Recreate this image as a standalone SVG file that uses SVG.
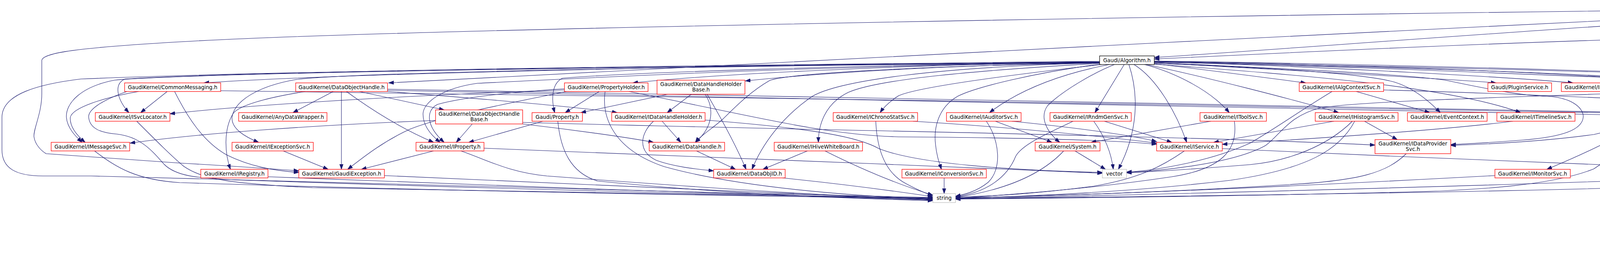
<svg xmlns="http://www.w3.org/2000/svg" width="5494" height="647" viewBox="0 0 5494 647">
<style>
.r rect{fill:#fff;stroke:#ff0000;stroke-width:1.3}
.b rect{fill:#fff;stroke:#000;stroke-width:1.3}
.s rect{fill:#fff;stroke:#bfbfbf;stroke-width:1.3}
.root rect{fill:#bfbfbf;stroke:#000;stroke-width:1.3}
text{font-family:"DejaVu Sans","Liberation Sans",sans-serif;font-size:13.33px;fill:#000;text-anchor:middle}
.root text{text-anchor:start}
</style>
<defs>
<marker id="a" markerUnits="userSpaceOnUse" markerWidth="14" markerHeight="10" refX="13" refY="5" orient="auto">
<path d="M0,0.5 L13,5 L0,9.5 z" fill="#191970" stroke="#191970" stroke-width="1"/>
</marker>
</defs>
<rect width="5494" height="647" fill="#fff"/>
<g id="edges" fill="none" stroke="#191970" stroke-width="1.1" marker-end="url(#a)">
<path d="M2815,157 C2200,162 900,185 522,212"/>
<path d="M2815,158 C1500,168 600,186 320,202 C290,215 300,255 330,288"/>
<path d="M2815,159 C1400,172 430,190 293,205 C205,222 168,265 170,300 C172,328 195,350 210,364"/>
<path d="M2815,160 C1600,170 700,182 207,202 C100,215 5,240 5,300 L5,383 C5,430 40,450 110,450 L233,450 C700,458 1600,490 2388,505"/>
<path d="M2815,160 C1800,168 900,186 760,203 C660,220 600,258 594,300 C592,330 628,350 662,364"/>
<path d="M2815,159 C2300,165 1800,192 1620,212"/>
<path d="M2815,160 C2400,168 2100,187 1908,207"/>
<path d="M2815,159 C2200,166 1600,186 1440,200 C1414,212 1410,250 1420,288"/>
<path d="M2815,160 C2000,170 1500,200 1222,213 C1130,226 1085,262 1083,290 C1082,322 1105,347 1127,364"/>
<path d="M2815,161 C2300,170 2010,190 1970,206 C1918,236 1880,276 1850,305 C1822,330 1792,348 1780,364"/>
<path d="M2815,161 C2400,171 2150,206 2080,246 C2000,300 1950,372 1925,433"/>
<path d="M2815,162 C2500,180 2250,202 2172,236 C2110,266 2095,322 2095,364"/>
<path d="M2820,165 C2600,190 2350,222 2300,245 C2280,258 2264,272 2253,288"/>
<path d="M2815,164 C2650,186 2500,222 2452,246 C2400,276 2390,330 2395,370 C2398,400 2405,417 2410,433"/>
<path d="M2840,165 C2700,192 2600,237 2533,288"/>
<path d="M2853,165 C2800,186 2720,232 2682,270 C2660,300 2680,338 2713,364"/>
<path d="M2878,165 L2803,288"/>
<path d="M2890,165 C2915,240 2915,335 2863,433"/>
<path d="M2903,165 C2960,200 3010,285 3038,364"/>
<path d="M2930,165 C3010,186 3100,232 3147,288"/>
<path d="M2935,165 C3100,200 3300,252 3427,288"/>
<path d="M2955,163 C3100,180 3250,200 3343,212"/>
<path d="M2955,162 C3300,175 3500,190 3570,210 C3622,226 3662,262 3687,288"/>
<path d="M2955,164 C3300,190 3700,218 3893,288"/>
<path d="M2955,160 C3300,180 3700,201 3830,212"/>
<path d="M2955,158 C3400,170 3900,200 4027,212"/>
<path d="M2955,157 C3500,165 4100,190 4287,212"/>
<path d="M2955,156 C3600,165 4500,190 4795,213"/>
<path d="M2955,157 C3600,170 4400,190 4600,203 C4700,215 4850,258 4912,288"/>
<path d="M2955,158 C3500,170 4000,195 4300,205 C4450,214 4550,230 4640,250 C4740,275 4745,322 4720,355 C4690,392 4650,415 4620,433"/>
<path d="M2955,159 C3500,170 4000,185 4190,200 C4222,215 4226,268 4196,318 C4176,336 4150,346 4120,360 C4050,396 4000,416 3960,433"/>
<path d="M2955,160 C3300,176 3600,190 3700,205 C3800,226 3900,246 3960,246 C4030,250 4055,280 4053,300 C4050,332 4000,350 3900,358 C3800,366 3750,368 3714,370"/>
<path d="M4609,22 C3000,40 1000,75 460,107 C200,122 107,135 107,155 L107,240 C107,290 85,330 87,350 C90,370 105,385 118,393 L460,417 C600,425 700,432 765,437"/>
<path d="M4609,28 C3500,80 2000,160 995,212"/>
<path d="M4609,35 C4000,70 3300,125 2955,147"/>
<path d="M4620,41 L4430,81"/>
<path d="M4648,41 C4560,80 4455,118 4405,143"/>
<path d="M4687,41 C4620,100 4500,192 4417,288"/>
<path d="M4702,41 L4643,288"/>
<path d="M4718,41 C4750,70 4757,120 4757,150 L4758,268 C4758,322 4700,356 4566,372"/>
<path d="M4733,41 C4850,100 5000,200 5083,288"/>
<path d="M4750,41 L4853,81"/>
<path d="M4785,41 L4970,81"/>
<path d="M4804,37 L5135,81"/>
<path d="M4804,32 L5326,81"/>
<path d="M4286,97 C3800,110 3300,135 2955,151"/>
<path d="M4378,103 L4382,143"/>
<path d="M428,234 L360,288"/>
<path d="M355,234 C262,250 185,276 180,300 C178,326 200,349 218,364"/>
<path d="M325,234 C262,256 225,280 227,300 C230,330 260,340 300,343 C360,350 390,386 420,420 C450,450 500,455 600,460 C1200,480 1900,500 2388,506"/>
<path d="M447,234 C480,300 520,362 580,396 C640,426 700,436 765,441"/>
<path d="M565,232 C1500,245 3500,270 4309,292"/>
<path d="M350,310 C400,360 440,400 470,425 C520,460 600,470 800,480 C1400,495 2000,503 2388,507"/>
<path d="M242,386 C300,430 350,460 460,467 C1000,485 1800,500 2388,508"/>
<path d="M853,234 L750,288"/>
<path d="M920,234 L1137,281"/>
<path d="M874,234 L874,433"/>
<path d="M887,234 C950,280 1030,330 1110,364"/>
<path d="M782,234 C680,250 612,270 597,290 C572,330 575,392 590,433"/>
<path d="M992,234 C1200,250 1450,270 1580,288"/>
<path d="M992,228 C2000,245 3500,276 4309,290"/>
<path d="M992,231 C2000,252 3600,282 4140,294 C4300,300 4420,340 4474,366"/>
<path d="M1445,230 C1000,245 600,272 435,291"/>
<path d="M1445,227 C1300,236 1180,250 1120,267 C1090,282 1090,322 1137,364"/>
<path d="M1534,234 L1447,288"/>
<path d="M1549,234 C1540,300 1570,382 1700,426 C1900,482 2200,502 2388,509"/>
<path d="M1450,234 C1300,265 1150,292 1050,330 C980,362 930,402 890,433"/>
<path d="M1610,234 C1900,290 2100,345 2300,350 C2600,352 2850,358 2961,369"/>
<path d="M1115,308 C800,320 500,342 333,366"/>
<path d="M1209,317 L1168,364"/>
<path d="M1338,317 C1450,330 1600,350 1673,364"/>
<path d="M1338,313 C1900,330 3000,345 3520,371"/>
<path d="M1390,310 L1200,364"/>
<path d="M1428,310 C1435,382 1460,442 1530,463 C1800,490 2100,506 2388,513"/>
<path d="M1710,241 L1487,288"/>
<path d="M1770,241 L1708,288"/>
<path d="M1805,241 C1826,272 1830,322 1780,364"/>
<path d="M1810,241 C1840,292 1880,362 1910,433"/>
<path d="M1695,310 L1743,364"/>
<path d="M1673,310 C1640,340 1630,386 1680,410 C1730,428 1790,433 1827,437"/>
<path d="M1805,307 C2100,330 2200,352 2250,380 C2350,420 2600,436 2822,441"/>
<path d="M1110,386 L925,433"/>
<path d="M1239,379 C1700,395 2300,422 2822,443"/>
<path d="M1180,386 C1250,410 1300,440 1400,450 C1800,480 2100,500 2388,510"/>
<path d="M1783,386 L1883,433"/>
<path d="M2067,386 L1953,433"/>
<path d="M2112,386 C2200,430 2300,472 2388,499"/>
<path d="M2003,455 C2150,470 2300,490 2388,503"/>
<path d="M984,449 C1500,470 2000,495 2388,511"/>
<path d="M686,452 C1200,470 1900,500 2388,512"/>
<path d="M725,386 L840,433"/>
<path d="M2242,310 C2245,382 2265,442 2320,470 C2350,486 2370,495 2388,500"/>
<path d="M2337,310 C2600,326 2850,352 2961,366"/>
<path d="M2590,310 C2750,326 2900,346 2961,362"/>
<path d="M2548,310 L2693,364"/>
<path d="M2525,310 C2560,362 2565,432 2530,466 C2500,490 2470,497 2446,502"/>
<path d="M2752,386 L2830,433"/>
<path d="M2723,386 C2680,432 2600,482 2446,505"/>
<path d="M2747,310 C2700,333 2617,367 2600,400 C2580,450 2530,492 2446,503"/>
<path d="M2800,310 C2830,352 2845,392 2850,433"/>
<path d="M2827,310 L3000,364"/>
<path d="M3100,310 L2793,364"/>
<path d="M3160,310 C3170,382 3130,432 3000,452 C2800,482 2600,497 2446,507"/>
<path d="M3415,310 L3107,364"/>
<path d="M3462,310 C3400,372 3300,412 3200,421 C3050,433 2950,439 2884,442"/>
<path d="M3468,310 C3430,382 3350,432 3150,461 C2900,491 2650,501 2446,508"/>
<path d="M3493,310 L3577,357"/>
<path d="M3410,234 C3330,282 3260,332 3200,366 C3100,412 2960,436 2884,440"/>
<path d="M3472,234 L3660,288"/>
<path d="M3542,230 C3900,240 4500,266 4845,290"/>
<path d="M4103,234 C4130,256 4150,282 4147,300 C4145,322 4120,336 4080,344 C3950,362 3800,369 3714,372"/>
<path d="M4271,234 C4000,245 3500,256 3380,276 C3300,296 3280,342 3240,372 C3150,422 2950,438 2884,441"/>
<path d="M4392,234 L4587,288"/>
<path d="M4403,234 C4482,262 4525,312 4520,364"/>
<path d="M4342,234 C4250,302 4170,372 4080,432 C3980,472 3800,486 3600,491 C3200,501 2800,506 2446,509"/>
<path d="M3873,310 C3700,332 3400,352 3129,369"/>
<path d="M3600,393 C3550,442 3480,462 3300,472 C3000,491 2700,501 2446,506"/>
<path d="M3827,449 C3400,472 2900,496 2446,507"/>
<path d="M3129,380 C3600,402 4200,426 4512,438"/>
<path d="M3032,386 C2980,422 2920,456 2800,476 C2650,496 2550,501 2446,504"/>
<path d="M4988,310 C4930,372 4800,422 4685,433"/>
<path d="M4933,310 C4900,382 4830,432 4700,456 C4400,482 3500,497 2446,508"/>
<path d="M4908,241 L4990,288"/>
<path d="M4940,241 L5060,288"/>
<path d="M4512,448 C4000,471 3000,496 2446,509"/>
<path d="M4417,310 L4500,364"/>
<path d="M4622,310 L4540,364"/>
<path d="M2417,455 L2417,495"/>
</g>
<g id="n_details" class="root"><rect x="4609" y="5" width="195" height="36"/><text x="4621" y="19">GaudiFunctional/include</text><text x="4621" y="33">/Gaudi/Functional/details.h</text></g>
<g id="n_gkalgorithm" class="b"><rect x="4286" y="81" width="180" height="22"/><text x="4376" y="96.5">GaudiKernel/Algorithm.h</text></g>
<g id="n_cassert" class="s"><rect x="4845" y="81" width="69" height="22"/><text x="4879.5" y="96.5">cassert</text></g>
<g id="n_version" class="s"><rect x="4938" y="81" width="158" height="22"/><text x="5017" y="96.5">range/v3/version.hpp</text></g>
<g id="n_const" class="s"><rect x="5120" y="81" width="181" height="22"/><text x="5210.5" y="96.5">range/v3/view/const.hpp</text></g>
<g id="n_zip" class="s"><rect x="5324" y="81" width="165" height="22"/><text x="5406.5" y="96.5">range/v3/view/zip.hpp</text></g>
<g id="n_galgorithm" class="b"><rect x="2815" y="143" width="140" height="22"/><text x="2885" y="158.5">Gaudi/Algorithm.h</text></g>
<g id="n_tlc" class="r"><rect x="4262" y="143" width="246" height="22"/><text x="4385" y="158.5">GaudiKernel/ThreadLocalContext.h</text></g>
<g id="n_commonmessaging" class="r"><rect x="319" y="212" width="246" height="22"/><text x="442" y="227.5">GaudiKernel/CommonMessaging.h</text></g>
<g id="n_dataobjecthandle" class="r"><rect x="757" y="212" width="235" height="22"/><text x="874.5" y="227.5">GaudiKernel/DataObjectHandle.h</text></g>
<g id="n_propertyholder" class="r"><rect x="1445" y="212" width="214" height="22"/><text x="1552" y="227.5">GaudiKernel/PropertyHolder.h</text></g>
<g id="n_dhhb" class="r"><rect x="1682" y="205" width="225" height="36"/><text x="1794.5" y="220">GaudiKernel/DataHandleHolder</text><text x="1794.5" y="233.5">Base.h</text></g>
<g id="n_ialgcontextsvc" class="r"><rect x="3326" y="212" width="216" height="22"/><text x="3434" y="227.5">GaudiKernel/IAlgContextSvc.h</text></g>
<g id="n_pluginservice" class="r"><rect x="3809" y="212" width="163" height="22"/><text x="3890.5" y="227.5">Gaudi/PluginService.h</text></g>
<g id="n_intuplesvc" class="r"><rect x="3997" y="212" width="187" height="22"/><text x="4090.5" y="227.5">GaudiKernel/INTupleSvc.h</text></g>
<g id="n_toolhandle" class="r"><rect x="4259" y="212" width="188" height="22"/><text x="4353" y="227.5">GaudiKernel/ToolHandle.h</text></g>
<g id="n_ialgexecstatesvc" class="r"><rect x="4795" y="205" width="194" height="36"/><text x="4892" y="220">GaudiKernel/IAlgExecState</text><text x="4892" y="233.5">Svc.h</text></g>
<g id="n_isvclocator" class="r"><rect x="244" y="288" width="191" height="22"/><text x="339.5" y="303.5">GaudiKernel/ISvcLocator.h</text></g>
<g id="n_anydatawrapper" class="r"><rect x="611" y="288" width="226" height="22"/><text x="724" y="303.5">GaudiKernel/AnyDataWrapper.h</text></g>
<g id="n_dohb" class="r"><rect x="1115" y="281" width="223" height="36"/><text x="1226.5" y="296">GaudiKernel/DataObjectHandle</text><text x="1226.5" y="309.5">Base.h</text></g>
<g id="n_gproperty" class="r"><rect x="1362" y="288" width="129" height="22"/><text x="1426.5" y="303.5">Gaudi/Property.h</text></g>
<g id="n_idatahandleholder" class="r"><rect x="1566" y="288" width="239" height="22"/><text x="1685.5" y="303.5">GaudiKernel/IDataHandleHolder.h</text></g>
<g id="n_ichronostatsvc" class="r"><rect x="2133" y="288" width="216" height="22"/><text x="2241" y="303.5">GaudiKernel/IChronoStatSvc.h</text></g>
<g id="n_iauditorsvc" class="r"><rect x="2423" y="288" width="191" height="22"/><text x="2518.5" y="303.5">GaudiKernel/IAuditorSvc.h</text></g>
<g id="n_irndmgensvc" class="r"><rect x="2688" y="288" width="208" height="22"/><text x="2792" y="303.5">GaudiKernel/IRndmGenSvc.h</text></g>
<g id="n_itoolsvc" class="r"><rect x="3072" y="288" width="170" height="22"/><text x="3157" y="303.5">GaudiKernel/IToolSvc.h</text></g>
<g id="n_ihistogramsvc" class="r"><rect x="3367" y="288" width="212" height="22"/><text x="3473" y="303.5">GaudiKernel/IHistogramSvc.h</text></g>
<g id="n_eventcontext" class="r"><rect x="3603" y="288" width="204" height="22"/><text x="3705" y="303.5">GaudiKernel/EventContext.h</text></g>
<g id="n_itimelinesvc" class="r"><rect x="3832" y="288" width="200" height="22"/><text x="3932" y="303.5">GaudiKernel/ITimelineSvc.h</text></g>
<g id="n_detected" class="b"><rect x="4309" y="288" width="174" height="22"/><text x="4396" y="303.5">GaudiKernel/detected.h</text></g>
<g id="n_ibinder" class="r"><rect x="4558" y="288" width="161" height="22"/><text x="4638.5" y="303.5">GaudiKernel/IBinder.h</text></g>
<g id="n_ialgorithm" class="r"><rect x="4845" y="288" width="184" height="22"/><text x="4937" y="303.5">GaudiKernel/IAlgorithm.h</text></g>
<g id="n_sstream" class="s"><rect x="5053" y="288" width="75" height="22"/><text x="5090.5" y="303.5">sstream</text></g>
<g id="n_imessagesvc" class="r"><rect x="131" y="364" width="201" height="22"/><text x="231.5" y="379.5">GaudiKernel/IMessageSvc.h</text></g>
<g id="n_iexceptionsvc" class="r"><rect x="594" y="364" width="208" height="22"/><text x="698" y="379.5">GaudiKernel/IExceptionSvc.h</text></g>
<g id="n_iproperty" class="r"><rect x="1065" y="364" width="174" height="22"/><text x="1152" y="379.5">GaudiKernel/IProperty.h</text></g>
<g id="n_datahandle" class="r"><rect x="1662" y="364" width="193" height="22"/><text x="1758.5" y="379.5">GaudiKernel/DataHandle.h</text></g>
<g id="n_ihivewhiteboard" class="r"><rect x="1982" y="364" width="226" height="22"/><text x="2095" y="379.5">GaudiKernel/IHiveWhiteBoard.h</text></g>
<g id="n_system" class="r"><rect x="2650" y="364" width="166" height="22"/><text x="2733" y="379.5">GaudiKernel/System.h</text></g>
<g id="n_iservice" class="r"><rect x="2961" y="364" width="168" height="22"/><text x="3045" y="379.5">GaudiKernel/IService.h</text></g>
<g id="n_idataprovidersvc" class="r"><rect x="3520" y="357" width="194" height="36"/><text x="3617" y="372">GaudiKernel/IDataProvider</text><text x="3617" y="385.5">Svc.h</text></g>
<g id="n_type_traits" class="s"><rect x="4474" y="364" width="92" height="22"/><text x="4520" y="379.5">type_traits</text></g>
<g id="n_iregistry" class="r"><rect x="514" y="433" width="172" height="22"/><text x="600" y="448.5">GaudiKernel/IRegistry.h</text></g>
<g id="n_gaudiexception" class="r"><rect x="765" y="433" width="219" height="22"/><text x="874.5" y="448.5">GaudiKernel/GaudiException.h</text></g>
<g id="n_dataobjid" class="r"><rect x="1827" y="433" width="183" height="22"/><text x="1918.5" y="448.5">GaudiKernel/DataObjID.h</text></g>
<g id="n_iconversionsvc" class="r"><rect x="2309" y="433" width="216" height="22"/><text x="2417" y="448.5">GaudiKernel/IConversionSvc.h</text></g>
<g id="n_vector" class="s"><rect x="2822" y="433" width="62" height="22"/><text x="2853" y="448.5">vector</text></g>
<g id="n_imonitorsvc" class="r"><rect x="3827" y="433" width="193" height="22"/><text x="3923.5" y="448.5">GaudiKernel/IMonitorSvc.h</text></g>
<g id="n_istateful" class="r"><rect x="4512" y="433" width="172" height="22"/><text x="4598" y="448.5">GaudiKernel/IStateful.h</text></g>
<g id="n_string" class="s"><rect x="2388" y="495" width="58" height="23"/><text x="2417" y="511">string</text></g>
</svg>
